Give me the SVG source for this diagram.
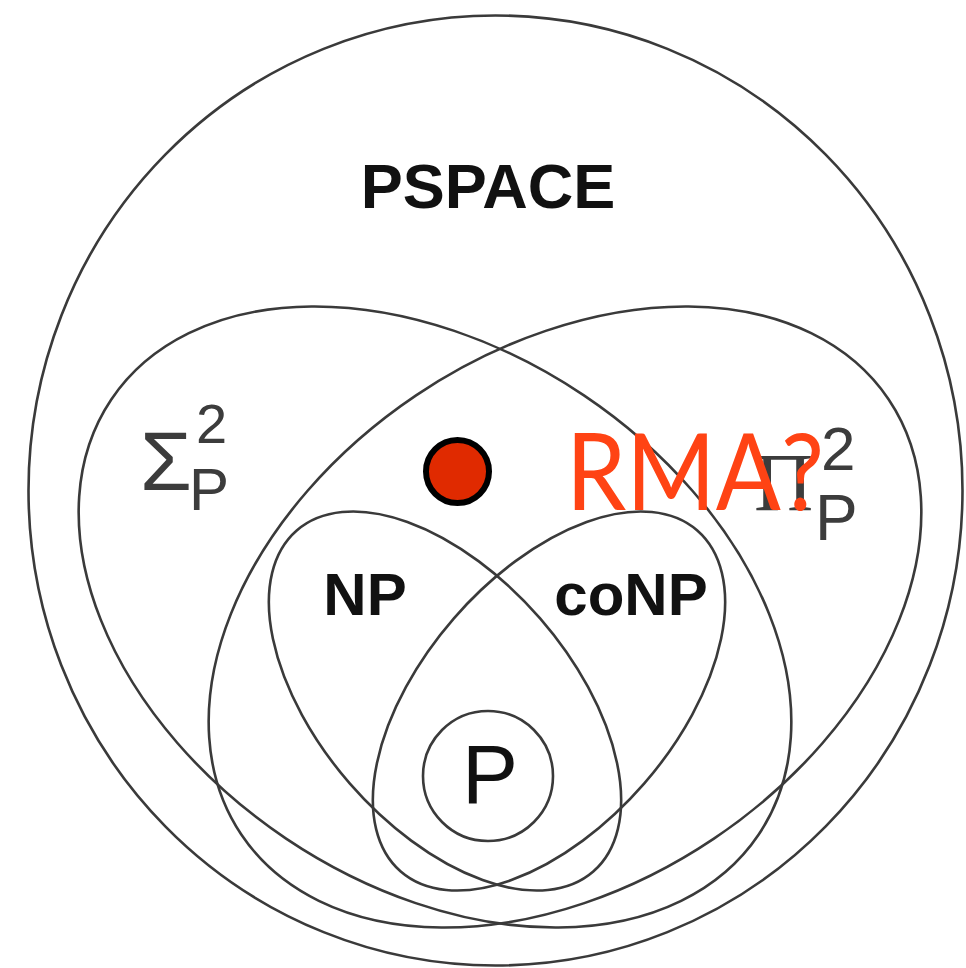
<svg xmlns="http://www.w3.org/2000/svg" width="966" height="968" viewBox="0 0 966 968">
<style>
.set{fill:none;stroke:#3a3a3a;stroke-width:2.6}
.lbl{font-family:"Liberation Sans",Arial,sans-serif;fill:#111}
.b{font-weight:bold}
.sym{font-family:"Liberation Sans",Arial,sans-serif;fill:#3c3c3c}
.serif{font-family:"Liberation Serif","Times New Roman",serif;fill:#3c3c3c}
</style>
<rect width="966" height="968" fill="#ffffff"/>
<g id="pspace">
<ellipse class="set" cx="495.5" cy="490.5" rx="467" ry="475"/>
<text class="lbl b" x="488" y="208" font-size="63" text-anchor="middle">PSPACE</text>
</g>
<g id="sigma2p">
<ellipse class="set" cx="435" cy="617" rx="390" ry="267" transform="rotate(33.9 435 617)"/>
<text class="sym" x="140" y="490" font-size="84">Σ</text>
<text class="sym" x="196" y="443" font-size="56">2</text>
<text class="sym" x="189" y="510" font-size="60">P</text>
</g>
<g id="pi2p">
<ellipse class="set" cx="565" cy="617" rx="390" ry="267" transform="rotate(-33.9 565 617)"/>
<text class="serif" x="754" y="510" font-size="82">Π</text>
<text class="sym" x="821" y="470" font-size="62">2</text>
<text class="sym" x="815" y="540" font-size="64">P</text>
</g>
<g id="np">
<ellipse class="set" cx="445" cy="701" rx="226" ry="126" transform="rotate(49 445 701)"/>
<text class="lbl b" x="365" y="615" font-size="60" text-anchor="middle">NP</text>
</g>
<g id="conp">
<ellipse class="set" cx="549" cy="701" rx="226" ry="126" transform="rotate(-49 549 701)"/>
<text class="lbl b" x="631" y="615" font-size="60" text-anchor="middle">coNP</text>
</g>
<g id="p">
<circle class="set" cx="488" cy="776" r="65"/>
<text class="lbl" x="490" y="803" font-size="84" text-anchor="middle">P</text>
</g>
<g id="rma">
<circle cx="457.5" cy="471.5" r="31.5" fill="#e02a00" stroke="#000" stroke-width="6"/>
<text x="566" y="510" font-family="Lato,'Open Sans',sans-serif" font-size="106" fill="#ff4314" textLength="258" lengthAdjust="spacingAndGlyphs">RMA?</text>
</g>
</svg>
